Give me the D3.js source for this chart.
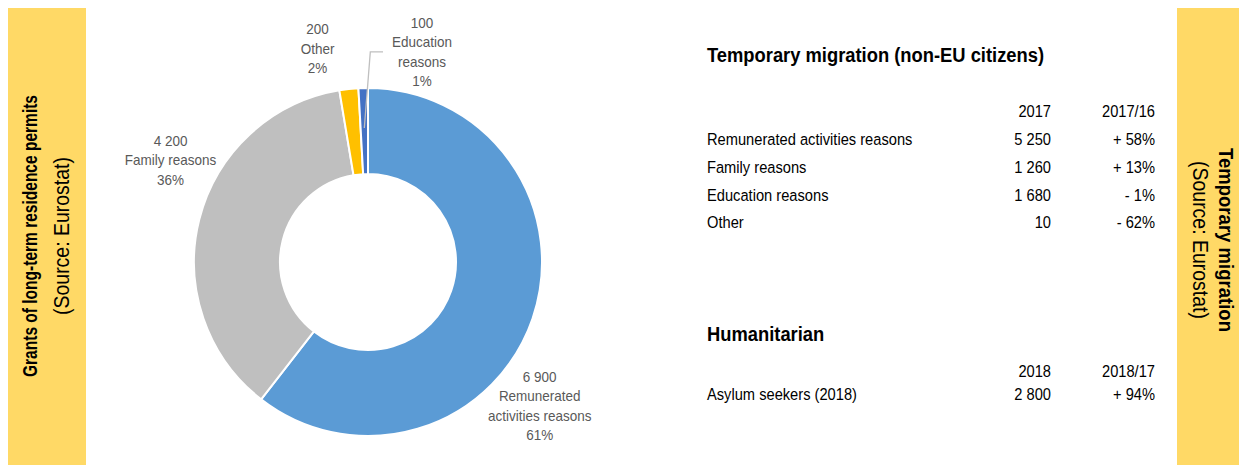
<!DOCTYPE html>
<html>
<head>
<meta charset="utf-8">
<script src="https://cdn.jsdelivr.net/npm/d3@7"></script>
<style>
  html, body { margin: 0; padding: 0; background: #fff; }
  svg { display: block; font-family: "Liberation Sans", Arial, sans-serif; }
</style>
</head>
<body>
<svg id="chart" width="1239" height="467"></svg>
<script>
// Grants of long-term residence permits, by reason
const reasonNames = ["Remunerated activities reasons", "Family reasons", "Other", "Education reasons"];
const reasonLabelLines = [["Remunerated", "activities reasons"], ["Family reasons"], ["Other"], ["Education", "reasons"]];
const reasonValues = [6900, 4200, 200, 100];
const reasonShares = ["61%", "36%", "2%", "1%"];
const reasonColors = ["#5B9BD5", "#BFBFBF", "#FFC000", "#4472C4"];

// Temporary migration table (non-EU citizens)
const tempTitle = "Temporary migration (non-EU citizens)";
const tempHeaders = ["2017", "2017/16"];
const tempRows = ["Remunerated activities reasons", "Family reasons", "Education reasons", "Other"];
const tempValues = [5250, 1260, 1680, 10];
const tempChanges = ["+ 58%", "+ 13%", "- 1%", "- 62%"];

// Humanitarian table
const humTitle = "Humanitarian";
const humHeaders = ["2018", "2018/17"];
const humRows = ["Asylum seekers (2018)"];
const humValues = [2800];
const humChanges = ["+ 94%"];

// Side bands
const leftBand = ["Grants of long-term residence permits", "(Source: Eurostat)"];
const rightBand = ["Temporary migration", "(Source: Eurostat)"];

const svg = d3.select("#chart");
const fmt = v => d3.format(",")(v).replace(/,/g, " ");
const SX = 0.9; // narrow text look

// ---- side bands ----
const bandFill = "#FFD966";
svg.append("rect").attr("x", 8).attr("y", 8).attr("width", 78).attr("height", 457).attr("fill", bandFill);
svg.append("rect").attr("x", 1177).attr("y", 8).attr("width", 62).attr("height", 457).attr("fill", bandFill);

function bandText(g, t, y, size, bold, len) {
  g.append("text").attr("y", y).attr("text-anchor", "middle")
    .attr("font-size", size).attr("font-weight", bold ? "bold" : "normal")
    .attr("textLength", len).attr("lengthAdjust", "spacingAndGlyphs")
    .attr("fill", "#000").text(t);
}
const lb = svg.append("g").attr("transform", "translate(47,236) rotate(-90)");
bandText(lb, leftBand[0], -10, 20.5, true, 282);
bandText(lb, leftBand[1], 22, 21.5, false, 158);

const rb = svg.append("g").attr("transform", "translate(1213,240) rotate(90)");
bandText(rb, rightBand[0], -6, 19.5, true, 184);
bandText(rb, rightBand[1], 20, 21.5, false, 158);

// ---- donut ----
const cx = 368, cy = 262, R = 174, r = 88;
const pie = d3.pie().sort(null).value(d => d.value);
const slices = pie(reasonValues.map((v, i) => ({
  name: reasonNames[i], value: v, share: reasonShares[i], lines: reasonLabelLines[i], color: reasonColors[i]
})));
const arc = d3.arc().innerRadius(r).outerRadius(R);
const donut = svg.append("g").attr("transform", `translate(${cx},${cy})`);
donut.selectAll("path").data(slices).join("path")
  .attr("d", arc).attr("fill", d => d.data.color)
  .attr("stroke", "#fff").attr("stroke-width", 2).attr("stroke-linejoin", "round");

// label placement: angular shift (deg) from slice centre, radius
const labelPlace = {
  "Remunerated activities reasons": { shift: 21, rad: 224 },
  "Family reasons": { shift: 13, rad: 222 },
  "Other": { shift: -7, rad: 219 },
  "Education reasons": { shift: 16, rad: 217 }
};
const lineH = 19.5;
slices.forEach(d => {
  const p = labelPlace[d.data.name];
  const a = (d.startAngle + d.endAngle) / 2 + p.shift * Math.PI / 180;
  const lx = p.rad * Math.sin(a), ly = -p.rad * Math.cos(a);
  const lines = [fmt(d.data.value), ...d.data.lines, d.data.share];
  const y0 = ly - (lines.length - 1) * lineH / 2;
  const g = donut.append("g");
  lines.forEach((t, i) => {
    g.append("text")
      .attr("transform", `translate(${lx},${y0 + i * lineH + 5}) scale(${SX},1)`)
      .attr("text-anchor", "middle").attr("font-size", 15).attr("fill", "#595959").text(t);
  });
  if (d.data.name === "Education reasons") {
    // leader line from the thin slice to its label
    const ma = (d.startAngle + d.endAngle) / 2;
    const sx = (R - 40) * Math.sin(ma), sy = -(R - 40) * Math.cos(ma);
    const ey = y0 + lineH * 1.5;
    donut.append("polyline")
      .attr("points", `${sx},${sy} ${sx + 6},${ey} ${lx - 39},${ey}`)
      .attr("fill", "none").attr("stroke", "#BFBFBF").attr("stroke-width", 1.3);
  }
});

// ---- tables ----
const xLabel = 707, xVal = 1051, xChg = 1155;
const bodySize = 16.3;
function table(top, title, headers, rows, values, changes, headerGap, rowGap) {
  svg.append("text").attr("transform", `translate(${xLabel},${top}) scale(${SX},1)`)
    .attr("font-size", 20.4).attr("font-weight", "bold").attr("fill", "#000").text(title);
  const hy = top + headerGap;
  [[xVal, headers[0]], [xChg, headers[1]]].forEach(([x, t]) => {
    svg.append("text").attr("transform", `translate(${x},${hy}) scale(${SX},1)`)
      .attr("text-anchor", "end").attr("font-size", bodySize).attr("fill", "#000").text(t);
  });
  rows.forEach((name, i) => {
    const y = hy + rowGap[0] + i * rowGap[1];
    svg.append("text").attr("transform", `translate(${xLabel},${y}) scale(${SX},1)`)
      .attr("font-size", bodySize).attr("fill", "#000").text(name);
    svg.append("text").attr("transform", `translate(${xVal},${y}) scale(${SX},1)`)
      .attr("text-anchor", "end").attr("font-size", bodySize).attr("fill", "#000").text(fmt(values[i]));
    svg.append("text").attr("transform", `translate(${xChg},${y}) scale(${SX},1)`)
      .attr("text-anchor", "end").attr("font-size", bodySize).attr("fill", "#000").text(changes[i]);
  });
}
table(62, tempTitle, tempHeaders, tempRows, tempValues, tempChanges, 55, [28, 27.8]);
table(341, humTitle, humHeaders, humRows, humValues, humChanges, 36, [23, 0]);
</script>
</body>
</html>
